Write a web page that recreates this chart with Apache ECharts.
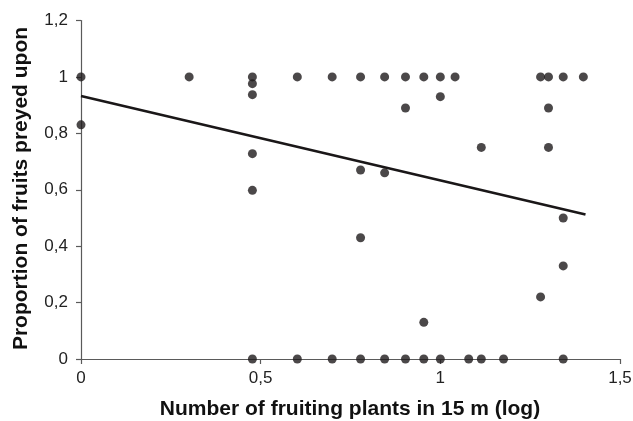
<!DOCTYPE html>
<html>
<head>
<meta charset="utf-8">
<script src="https://cdn.jsdelivr.net/npm/echarts@6/dist/echarts.min.js"></script>
<style>html,body{margin:0;padding:0;background:#fff}#c{width:633px;height:421px}</style>
</head>
<body>
<div id="c"></div>
<script>
// Observations: x = log number of fruiting plants in 15 m, y = proportion preyed upon
var xValues = [0, 0, 0.301, 0.477, 0.477, 0.477, 0.477, 0.477, 0.477, 0.602, 0.602, 0.699, 0.699,
  0.778, 0.778, 0.778, 0.778, 0.845, 0.845, 0.845, 0.903, 0.903, 0.903, 0.954, 0.954, 0.954,
  1.0, 1.0, 1.0, 1.041, 1.079, 1.114, 1.114, 1.176, 1.279, 1.279, 1.301, 1.301, 1.301,
  1.342, 1.342, 1.342, 1.342, 1.398];
var yValues = [1, 0.83, 1, 1, 0.976, 0.937, 0.728, 0.598, 0, 1, 0, 1, 0,
  1, 0.67, 0.43, 0, 1, 0.66, 0, 1, 0.89, 0, 1, 0.13, 0,
  1, 0.93, 0, 1, 0, 0.75, 0, 0, 1, 0.22, 1, 0.89, 0.75,
  1, 0.5, 0.33, 0, 1];
// Regression line end points
var trendX = [0, 1.404];
var trendY = [0.932, 0.512];
var xTickValues = [0, 0.5, 1, 1.5];
var xTickLabels = ['0', '0,5', '1', '1,5'];
var yTickValues = [0, 0.2, 0.4, 0.6, 0.8, 1, 1.2];
var yTickLabels = ['0', '0,2', '0,4', '0,6', '0,8', '1', '1,2'];
var xTitle = 'Number of fruiting plants in 15 m (log)';
var yTitle = 'Proportion of fruits preyed upon';

function lab(vals, labels) {
  return function (v) {
    for (var i = 0; i < vals.length; i++) if (Math.abs(vals[i] - v) < 1e-6) return labels[i];
    return '';
  };
}
var pts = xValues.map(function (x, i) { return [x, yValues[i]]; });
var line = trendX.map(function (x, i) { return [x, trendY[i]]; });
var FONT = '"Liberation Sans", Arial, sans-serif';
var axisCol = '#5a5a5a';
var chart = echarts.init(document.getElementById('c'), null, { renderer: 'canvas' });
chart.setOption({
  animation: false,
  backgroundColor: '#fff',
  grid: { left: 81, right: 13, top: 20.5, bottom: 62, containLabel: false, outerBoundsMode: 'none' },
  xAxis: {
    type: 'value', min: 0, max: 1.5, interval: 0.5,
    axisLine: { show: true, onZero: false, lineStyle: { color: axisCol, width: 1.2 } },
    axisTick: { show: true, inside: false, length: 5, lineStyle: { color: axisCol, width: 1.2 } },
    splitLine: { show: false },
    axisLabel: { margin: 11, fontSize: 17, color: '#222', fontFamily: FONT, formatter: lab(xTickValues, xTickLabels) }
  },
  yAxis: {
    type: 'value', min: 0, max: 1.2, interval: 0.2,
    axisLine: { show: true, onZero: false, lineStyle: { color: axisCol, width: 1.2 } },
    axisTick: { show: true, inside: false, length: 5, lineStyle: { color: axisCol, width: 1.2 } },
    splitLine: { show: false },
    axisLabel: { margin: 13, fontSize: 17, color: '#222', fontFamily: FONT, formatter: lab(yTickValues, yTickLabels) }
  },
  series: [
    {
      type: 'line', data: line, symbol: 'none', z: 3,
      lineStyle: { color: '#1a1718', width: 2.6 }
    },
    {
      type: 'scatter', data: pts, symbol: 'circle', symbolSize: 9, z: 4,
      itemStyle: { color: '#1e1a1b' }
    }
  ],
  graphic: [
    {
      type: 'text', x: 350, y: 409,
      style: { text: xTitle, font: 'bold 21px ' + FONT, fill: '#111', textAlign: 'center', textVerticalAlign: 'middle' }
    },
    {
      type: 'text', x: 21.5, y: 188.5, rotation: Math.PI / 2,
      style: { text: yTitle, font: 'bold 21px ' + FONT, fill: '#111', textAlign: 'center', textVerticalAlign: 'middle' }
    }
  ]
});
</script>
</body>
</html>
